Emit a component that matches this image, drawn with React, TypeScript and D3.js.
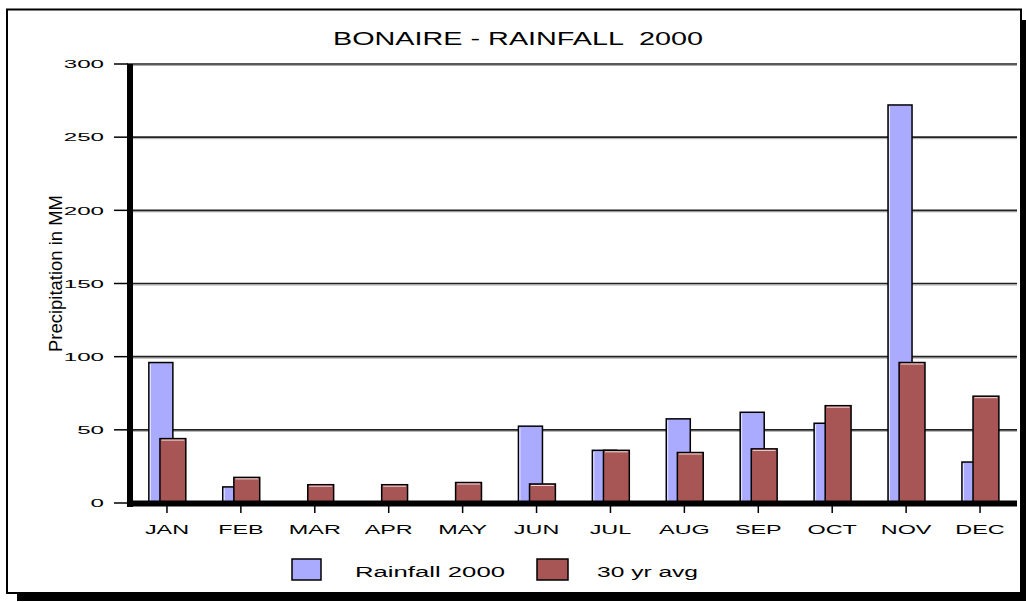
import React from "react";
import * as d3 from "d3";

const months = ["JAN", "FEB", "MAR", "APR", "MAY", "JUN", "JUL", "AUG", "SEP", "OCT", "NOV", "DEC"];
const rainfall2000 = [96, 11, 0, 0, 0, 52.5, 36, 57.5, 62, 54.5, 272, 28];
const avg30yr = [44, 17.5, 12.5, 12.5, 14, 13, 36, 34.5, 37, 66.5, 96, 73];
const yTicks = [0, 50, 100, 150, 200, 250, 300];
const seriesNames = ["Rainfall 2000", "30 yr avg"];
const title = "BONAIRE - RAINFALL  2000";
const yTitle = "Precipitation in MM";

const W = 1026;
const H = 602;
const BLUE = "#AAAAFF";
const RED = "#A85555";
const FONT = "'Liberation Sans', Arial, Helvetica, sans-serif";

export default function App() {
  const x = d3.scaleBand<string>().domain(months).range([130, 1017]).padding(0);
  const y = d3.scaleLinear().domain([0, 300]).range([503, 64]);
  const bw = x.bandwidth();

  return (
    <svg
      width={W}
      height={H}
      viewBox={`0 0 ${W} ${H}`}
      style={{ position: "absolute", left: 0, top: 0, background: "#fff" }}
    >
      {/* frame with drop shadow */}
      <rect x={17} y={20} width={1009} height={581} fill="#000" />
      <rect x={7} y={9.5} width={1014} height={583.5} fill="#fff" stroke="#000" strokeWidth={2} />

      {/* title */}
      <text
        x={333}
        y={45}
        fontFamily={FONT}
        fontSize={18}
        textLength={370}
        lengthAdjust="spacingAndGlyphs"
        fill="#000"
        style={{ whiteSpace: "pre" }}
      >
        {title}
      </text>

      {/* gridlines + y ticks */}
      {yTicks.map((t) => (
        <g key={t}>
          {t > 0 && (
            <>
              <line x1={127} x2={1017} y1={y(t) + 1.5} y2={y(t) + 1.5} stroke="#aaa" strokeWidth={1} />
              <line x1={127} x2={1017} y1={y(t)} y2={y(t)} stroke="#222" strokeWidth={1.6} />
            </>
          )}
          <line x1={114} x2={128} y1={y(t)} y2={y(t)} stroke="#000" strokeWidth={1.5} />
          <text
            transform={`translate(104,${y(t) + 4.2}) scale(2.1,1)`}
            textAnchor="end"
            fontFamily={FONT}
            fontSize={11.5}
            fill="#000"
          >
            {t}
          </text>
        </g>
      ))}

      {/* bars */}
      {months.map((m, i) => {
        const x0 = x(m) as number;
        const bx = x0 + bw * 0.255;
        const bwid = bw * 0.325;
        const rx = x0 + bw * 0.405;
        const rwid = bw * 0.35;
        const bv = rainfall2000[i];
        const rv = avg30yr[i];
        return (
          <g key={m}>
            {bv > 0 && (
              <g>
                <rect x={bx} y={y(bv)} width={bwid} height={y(0) - y(bv)} fill={BLUE} stroke="#000" strokeWidth={1.5} />
                <line x1={bx + 1.5} x2={bx + 1.5} y1={y(bv) + 1.5} y2={y(0)} stroke="#e8e8ff" strokeWidth={1} />
              </g>
            )}
            {rv > 0 && (
              <g>
                <rect x={rx} y={y(rv)} width={rwid} height={y(0) - y(rv)} fill={RED} stroke="#000" strokeWidth={1.5} />
                <line x1={rx + 1.5} x2={rx + rwid - 1.5} y1={y(rv) + 1.5} y2={y(rv) + 1.5} stroke="#f0dcdc" strokeWidth={1} />
              </g>
            )}
          </g>
        );
      })}

      {/* axes */}
      <rect x={127} y={64} width={6} height={443} fill="#000" />
      <rect x={127} y={500.5} width={890} height={6} fill="#000" />

      {/* x ticks and labels */}
      {months.map((m) => {
        const cx = (x(m) as number) + bw / 2;
        return (
          <g key={m}>
            <line x1={cx} x2={cx} y1={506} y2={513} stroke="#000" strokeWidth={1.5} />
            <text
              transform={`translate(${cx},534) scale(1.95,1)`}
              textAnchor="middle"
              fontFamily={FONT}
              fontSize={12}
              fill="#000"
            >
              {m}
            </text>
          </g>
        );
      })}

      {/* y axis title */}
      <text
        transform="translate(62,273.5) rotate(-90)"
        textAnchor="middle"
        fontFamily={FONT}
        fontSize={18}
        textLength={157}
        lengthAdjust="spacingAndGlyphs"
        fill="#000"
      >
        {yTitle}
      </text>

      {/* legend */}
      <rect x={292} y={559} width={29} height={21} fill={BLUE} stroke="#000" strokeWidth={1.5} />
      <text x={355} y={577} fontFamily={FONT} fontSize={14} textLength={150} lengthAdjust="spacingAndGlyphs" fill="#000">
        {seriesNames[0]}
      </text>
      <rect x={537} y={559} width={31} height={21} fill={RED} stroke="#000" strokeWidth={1.5} />
      <text x={597} y={577} fontFamily={FONT} fontSize={14} textLength={101} lengthAdjust="spacingAndGlyphs" fill="#000">
        {seriesNames[1]}
      </text>
    </svg>
  );
}
